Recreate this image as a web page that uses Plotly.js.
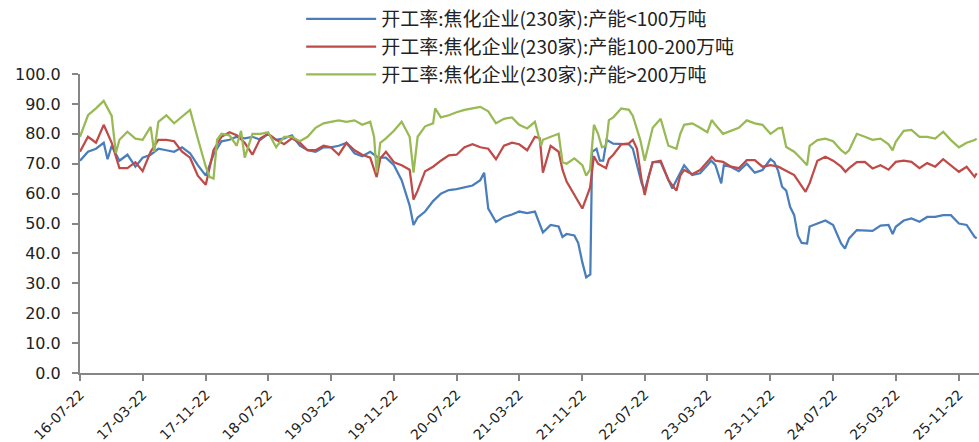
<!DOCTYPE html>
<html>
<head>
<meta charset="utf-8">
<script src="https://cdn.plot.ly/plotly-3.0.1.min.js"></script>
<style>html,body{margin:0;padding:0;background:#fff;}#chart{width:979px;height:442px;}</style>
</head>
<body>
<div id="chart"></div>
<script>
// ---- data ----
const seriesNames = [
  "开工率:焦化企业(230家):产能<100万吨",
  "开工率:焦化企业(230家):产能100-200万吨",
  "开工率:焦化企业(230家):产能>200万吨"
];

const blueDates = ["2016-07-22","2016-08-22","2016-09-22","2016-10-22","2016-11-06","2016-11-22","2016-12-22","2017-01-22","2017-02-22","2017-03-22","2017-04-22","2017-05-22","2017-06-22","2017-07-22","2017-08-22","2017-09-22","2017-10-22","2017-11-22","2017-12-22","2018-01-22","2018-02-22","2018-03-22","2018-04-22","2018-05-22","2018-06-22","2018-07-22","2018-08-22","2018-09-22","2018-10-22","2018-11-22","2018-12-22","2019-01-22","2019-02-22","2019-03-22","2019-04-22","2019-05-22","2019-06-22","2019-07-22","2019-08-22","2019-09-22","2019-10-22","2019-11-22","2019-12-22","2020-01-22","2020-02-06","2020-02-22","2020-03-22","2020-04-22","2020-05-22","2020-06-22","2020-07-22","2020-08-22","2020-09-22","2020-10-22","2020-11-06","2020-11-22","2020-12-22","2021-01-22","2021-02-22","2021-03-22","2021-04-22","2021-05-22","2021-06-22","2021-07-22","2021-08-22","2021-09-06","2021-09-22","2021-10-22","2021-11-06","2021-11-22","2021-12-07","2021-12-23","2021-12-30","2022-01-16","2022-01-29","2022-02-11","2022-02-24","2022-03-22","2022-04-22","2022-05-22","2022-06-06","2022-06-22","2022-07-10","2022-07-22","2022-08-06","2022-08-22","2022-09-22","2022-10-22","2022-11-06","2022-11-22","2022-12-07","2022-12-22","2023-01-22","2023-02-22","2023-03-22","2023-04-06","2023-04-22","2023-05-15","2023-05-25","2023-06-22","2023-07-22","2023-08-22","2023-09-22","2023-10-22","2023-11-22","2023-12-07","2023-12-22","2024-01-06","2024-01-22","2024-02-06","2024-02-22","2024-03-07","2024-03-22","2024-04-12","2024-04-22","2024-05-22","2024-06-22","2024-07-22","2024-08-22","2024-09-06","2024-09-22","2024-10-22","2024-11-22","2024-12-22","2025-01-22","2025-02-22","2025-03-10","2025-03-22","2025-04-22","2025-05-22","2025-06-22","2025-07-22","2025-08-22","2025-09-22","2025-10-22","2025-11-22","2025-12-22","2026-01-22","2026-01-30"];
const blueVals = [71,74,75,77,71.5,76,71,73,69,72,73,75,74.5,74,75.5,73.5,69.5,66,73,77.5,78,79,78.5,79,78,80,78,78.5,79.5,76,74.5,74,75.5,75.5,76,77,73.5,72.5,74,72,72,69.5,64.5,56,49.5,52,54,57.5,60,61.2,61.5,62,62.7,64.5,67,55,50.5,52.2,53,54,53.5,54,47,49.5,49,45.5,46.5,46,43.5,37,32,33,74,75,71,71,78,76.7,76.7,76.5,75,70,63.5,61,65.6,70.5,70.5,64.5,61.7,64.5,66.8,69.5,66.2,66.8,69.5,71,69.6,63.4,69.5,68.9,67.5,70,67,67.9,71.5,70.5,67.5,62.3,61,55.6,52.8,46,43.5,43.3,49,50,51,49.5,43.3,41.6,45,47.8,47.6,47.5,49.3,49.5,46.5,48.9,51,51.7,50.6,52.2,52.2,52.8,52.8,50,49.5,45.5,45];

const redDates = ["2016-07-22","2016-08-22","2016-09-22","2016-10-22","2016-11-22","2016-12-22","2017-01-22","2017-02-22","2017-03-22","2017-04-22","2017-05-22","2017-06-22","2017-07-22","2017-08-22","2017-09-22","2017-10-22","2017-11-22","2017-12-22","2018-01-22","2018-02-22","2018-03-22","2018-04-22","2018-05-22","2018-06-22","2018-07-22","2018-08-22","2018-09-22","2018-10-22","2018-11-22","2018-12-22","2019-01-22","2019-02-22","2019-03-22","2019-04-22","2019-05-22","2019-06-22","2019-07-22","2019-08-22","2019-09-16","2019-09-30","2019-10-22","2019-11-22","2019-12-22","2020-01-22","2020-02-06","2020-02-22","2020-03-22","2020-04-22","2020-05-22","2020-06-22","2020-07-22","2020-08-22","2020-09-22","2020-10-22","2020-11-22","2020-12-22","2021-01-22","2021-02-22","2021-03-22","2021-04-22","2021-05-22","2021-06-10","2021-06-22","2021-07-22","2021-08-22","2021-09-06","2021-09-22","2021-10-22","2021-11-22","2021-12-22","2022-01-06","2022-01-22","2022-02-22","2022-03-05","2022-03-22","2022-04-22","2022-05-22","2022-06-06","2022-06-22","2022-07-10","2022-07-22","2022-08-06","2022-08-22","2022-09-22","2022-10-22","2022-11-22","2022-12-07","2022-12-22","2023-01-22","2023-02-22","2023-03-22","2023-04-08","2023-04-22","2023-05-22","2023-06-22","2023-07-22","2023-08-22","2023-09-22","2023-10-22","2023-11-22","2023-12-22","2024-01-22","2024-02-22","2024-03-22","2024-04-06","2024-04-22","2024-05-22","2024-06-22","2024-07-22","2024-08-22","2024-09-08","2024-09-22","2024-10-22","2024-11-22","2024-12-22","2025-01-22","2025-02-22","2025-03-22","2025-04-22","2025-05-22","2025-06-22","2025-07-22","2025-08-22","2025-09-22","2025-10-22","2025-11-22","2025-12-22","2026-01-22","2026-01-30"];
const redVals = [74,79,77,83,77,68.5,68.5,70.5,67.5,74,78,78,77.5,74,72,66,63,74.5,79,80.5,79.5,77,73,78.5,80,78,76.5,78.5,77,74.5,74.5,76,75.5,73,77,74.5,73,72,65.5,71.7,74,70.5,69.5,68,58,61,67.5,69,71,72.8,73,75.5,76.5,75.5,75,71.5,76,77,76.5,74.5,79,78.5,67,76,74,68,64,59.5,55,62,72.5,70,68.5,71.5,73,76.5,76.8,78,75,64.6,59.5,65.5,70.5,71,64.5,61,66,67.9,66.5,67.9,70.5,72.3,71,70.6,69,68.5,71.2,71.2,69,69.5,69,67.5,66.2,62.5,60.6,63.5,71,72.3,71,69,67.3,68.5,70.5,70.6,68.4,69.5,68,70.6,71,70.6,68.5,70.2,69,71.5,69.5,67.3,69,65.6,66.8];

const greenDates = ["2016-07-22","2016-08-22","2016-09-22","2016-10-22","2016-11-22","2016-12-08","2016-12-22","2017-01-22","2017-02-22","2017-03-22","2017-04-22","2017-05-06","2017-05-22","2017-06-22","2017-07-22","2017-08-22","2017-09-22","2017-10-22","2017-11-22","2017-12-07","2017-12-22","2018-01-05","2018-01-22","2018-02-22","2018-03-22","2018-04-08","2018-04-22","2018-05-22","2018-06-22","2018-07-22","2018-08-22","2018-09-22","2018-10-22","2018-11-22","2018-12-22","2019-01-22","2019-02-22","2019-03-22","2019-04-22","2019-05-22","2019-06-22","2019-07-22","2019-08-22","2019-09-06","2019-09-16","2019-09-30","2019-10-22","2019-11-22","2019-12-22","2020-01-22","2020-02-06","2020-02-22","2020-03-22","2020-04-22","2020-04-30","2020-05-22","2020-06-22","2020-07-22","2020-08-22","2020-09-22","2020-10-22","2020-11-22","2020-12-22","2021-01-22","2021-02-22","2021-03-22","2021-04-22","2021-05-22","2021-06-15","2021-06-22","2021-07-22","2021-08-22","2021-09-06","2021-09-22","2021-10-22","2021-11-22","2021-12-07","2021-12-22","2022-01-06","2022-01-22","2022-02-06","2022-02-22","2022-03-05","2022-03-22","2022-04-22","2022-05-22","2022-06-06","2022-06-22","2022-07-05","2022-07-22","2022-08-22","2022-09-22","2022-10-22","2022-11-22","2022-12-07","2022-12-22","2023-01-22","2023-02-22","2023-03-22","2023-04-08","2023-04-22","2023-05-22","2023-06-22","2023-07-22","2023-08-22","2023-09-22","2023-10-22","2023-11-22","2023-12-22","2024-01-06","2024-01-22","2024-02-22","2024-03-22","2024-04-12","2024-04-22","2024-05-22","2024-06-22","2024-07-22","2024-08-22","2024-09-08","2024-09-22","2024-10-22","2024-11-22","2024-12-22","2025-01-22","2025-02-22","2025-03-10","2025-03-22","2025-04-22","2025-05-22","2025-06-22","2025-07-22","2025-08-22","2025-09-22","2025-10-22","2025-11-22","2025-12-22","2026-01-22","2026-01-30"];
const greenVals = [79,86.2,88.5,91,86,73.5,78,80.7,78.4,78,82.3,74,84,86.2,83.5,85.7,88,78.4,69,65.6,65,78,80,79.5,76,81,72,80,80,80.5,75.5,79,79,77.5,79,82,83.5,84,84.5,84,84.5,83,84,79,67,77,78.5,81,84,79,67,79,82.5,83.5,88.5,85.5,86.2,87.2,88,88.5,89,87.5,83.5,85,85.5,83,81.8,84,76,78,79,80,70.5,70,71.8,69.5,66,68,83,80,75.5,76,84.6,85.5,88.5,88,86,81.8,77.9,71,82,85,76,75,80,83,83.5,82,80.5,84.6,83,80,81,82,84.5,83.5,83,80,81.8,82,75.6,74,71.5,69.5,76,77.9,78.4,77.5,74.5,73.4,74.5,80,79,78,78.4,76.5,74.5,77.3,81,81.3,79,79,78.4,80.7,77.9,75.5,77,77.9,78.4];

const tickDates = ["2016-07-22","2017-03-22","2017-11-22","2018-07-22","2019-03-22","2019-11-22","2020-07-22","2021-03-22","2021-11-22","2022-07-22","2023-03-22","2023-11-22","2024-07-22","2025-03-22","2025-11-22"];
const tickLabels = ["16-07-22","17-03-22","17-11-22","18-07-22","19-03-22","19-11-22","20-07-22","21-03-22","21-11-22","22-07-22","23-03-22","23-11-22","24-07-22","25-03-22","25-11-22"];
const seriesColors = ["#4A7EBB","#BE4B48","#98B954"];

// ---- chart ----
const xs = [blueDates, redDates, greenDates];
const ys = [blueVals, redVals, greenVals];
const traces = xs.map((x, i) => ({
  type: "scatter", mode: "lines", x: x, y: ys[i], name: seriesNames[i],
  line: {color: seriesColors[i], width: 2.25},
  legendgroup: "g" + i
}));

const axisColor = "#868686";
const layout = {
  width: 979, height: 442,
  margin: {l: 80, r: 0, t: 74, b: 69},
  paper_bgcolor: "#ffffff", plot_bgcolor: "#ffffff",
  showlegend: true,
  legend: {
    x: 0.246, xanchor: "left", y: 1.248, yanchor: "top",
    orientation: "v", bgcolor: "rgba(0,0,0,0)",
    font: {family: "Noto Sans CJK SC, sans-serif", size: 19, color: "#222"},
    itemwidth: 70, tracegroupgap: 0, traceorder: "normal"
  },
  xaxis: {
    type: "date",
    range: ["2016-07-22", "2026-02-08"],
    tickmode: "array", tickvals: tickDates, ticktext: tickLabels,
    tickangle: -45,
    showline: true, linecolor: axisColor, linewidth: 2,
    ticks: "outside", ticklen: 6, tickwidth: 2, tickcolor: axisColor,
    showgrid: false, zeroline: false,
    tickfont: {family: "DejaVu Sans, sans-serif", size: 14, color: "#222"}
  },
  yaxis: {
    range: [0, 100], dtick: 10, tick0: 0, tickformat: ".1f",
    showline: true, linecolor: axisColor, linewidth: 2,
    ticks: "outside", ticklen: 6, tickwidth: 2, tickcolor: axisColor,
    showgrid: false, zeroline: false,
    ticklabelstandoff: 8,
    tickfont: {family: "DejaVu Sans, sans-serif", size: 16, color: "#222"}
  }
};

Plotly.newPlot("chart", traces, layout, {staticPlot: true, displayModeBar: false});
</script>
</body>
</html>
